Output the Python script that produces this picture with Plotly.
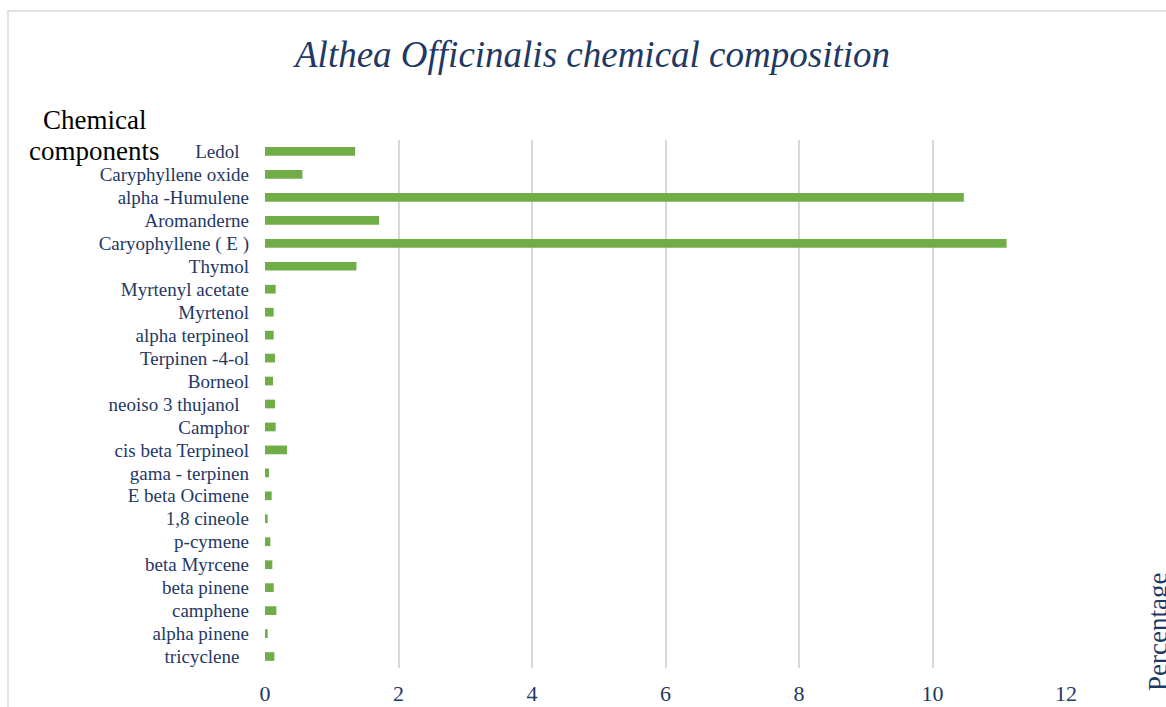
import plotly.graph_objects as go

# Components listed top to bottom as they appear on the chart
components = [
    "Ledol  ", "Caryphyllene oxide", "alpha -Humulene", "Aromanderne",
    "Caryophyllene ( E )", "Thymol", "Myrtenyl acetate", "Myrtenol",
    "alpha terpineol", "Terpinen -4-ol", "Borneol", "neoiso 3 thujanol  ",
    "Camphor", "cis beta Terpineol", "gama - terpinen", "E beta Ocimene",
    "1,8 cineole", "p-cymene", "beta Myrcene", "beta pinene", "camphene",
    "alpha pinene", "tricyclene  ",
]
percentages = [
    1.35, 0.56, 10.47, 1.71,
    11.11, 1.37, 0.16, 0.13,
    0.13, 0.15, 0.12, 0.15,
    0.16, 0.33, 0.06, 0.10,
    0.04, 0.08, 0.11, 0.13, 0.17,
    0.04, 0.14,
]
x_ticks = [0, 2, 4, 6, 8, 10, 12]

NAVY = "#1F3864"
SERIF = "Liberation Serif, Times New Roman, serif"

# plot area in pixels
L, R, T, B = 265, 1066, 140, 668
W, H = R - L, B - T

fig = go.Figure(
    go.Bar(
        x=percentages,
        y=components,
        orientation="h",
        marker=dict(color="#70AD47", line=dict(width=0)),
    )
)

fig.update_layout(
    width=1166,
    height=707,
    margin=dict(l=L, r=1166 - R, t=T, b=707 - B, autoexpand=False),
    paper_bgcolor="white",
    plot_bgcolor="white",
    bargap=0.62,
    showlegend=False,
    font=dict(family=SERIF, color=NAVY),
    xaxis=dict(
        range=[0, 12],
        tickvals=x_ticks,
        automargin=False,
        showgrid=True,
        gridcolor="#D9D9D9",
        gridwidth=1.5,
        zeroline=False,
        showline=False,
        ticks="",
        ticklabelstandoff=10,
        tickfont=dict(family=SERIF, size=22, color=NAVY),
    ),
    yaxis=dict(
        categoryorder="array",
        categoryarray=components,
        autorange="reversed",
        tickmode="array",
        tickvals=components,
        ticktext=components,
        automargin=False,
        showgrid=False,
        zeroline=False,
        showline=False,
        ticks="",
        ticklabelstandoff=15,
        tickfont=dict(family=SERIF, size=19, color=NAVY),
    ),
    shapes=[
        # chart frame, running off the right and bottom edges
        dict(type="rect", xref="paper", yref="paper",
             x0=(8 - L) / W, x1=1.2, y0=-0.2, y1=1 + (T - 11) / H,
             line=dict(color="#D9D9D9", width=1.5), fillcolor="rgba(0,0,0,0)",
             layer="below"),
    ],
    annotations=[
        dict(text="<i>Althea Officinalis chemical composition</i>",
             xref="paper", yref="paper", x=(591 - L) / W, y=1 + (T - 54) / H,
             xanchor="center", yanchor="middle", showarrow=False,
             font=dict(family=SERIF, size=37, color=NAVY)),
        dict(text="Chemical",
             xref="paper", yref="paper", x=(94 - L) / W, y=1 + (T - 120) / H,
             xanchor="center", yanchor="middle", showarrow=False,
             font=dict(family=SERIF, size=27, color="black")),
        dict(text="components",
             xref="paper", yref="paper", x=(94 - L) / W, y=1 + (T - 151) / H,
             xanchor="center", yanchor="middle", showarrow=False,
             font=dict(family=SERIF, size=27, color="black")),
        dict(text="Percentage",
             xref="paper", yref="paper", x=(1158 - L) / W, y=-(693 - B) / H,
             xanchor="center", yanchor="bottom", showarrow=False, textangle=-90,
             font=dict(family=SERIF, size=27, color=NAVY)),
    ],
)

fig.write_html("out.html")
